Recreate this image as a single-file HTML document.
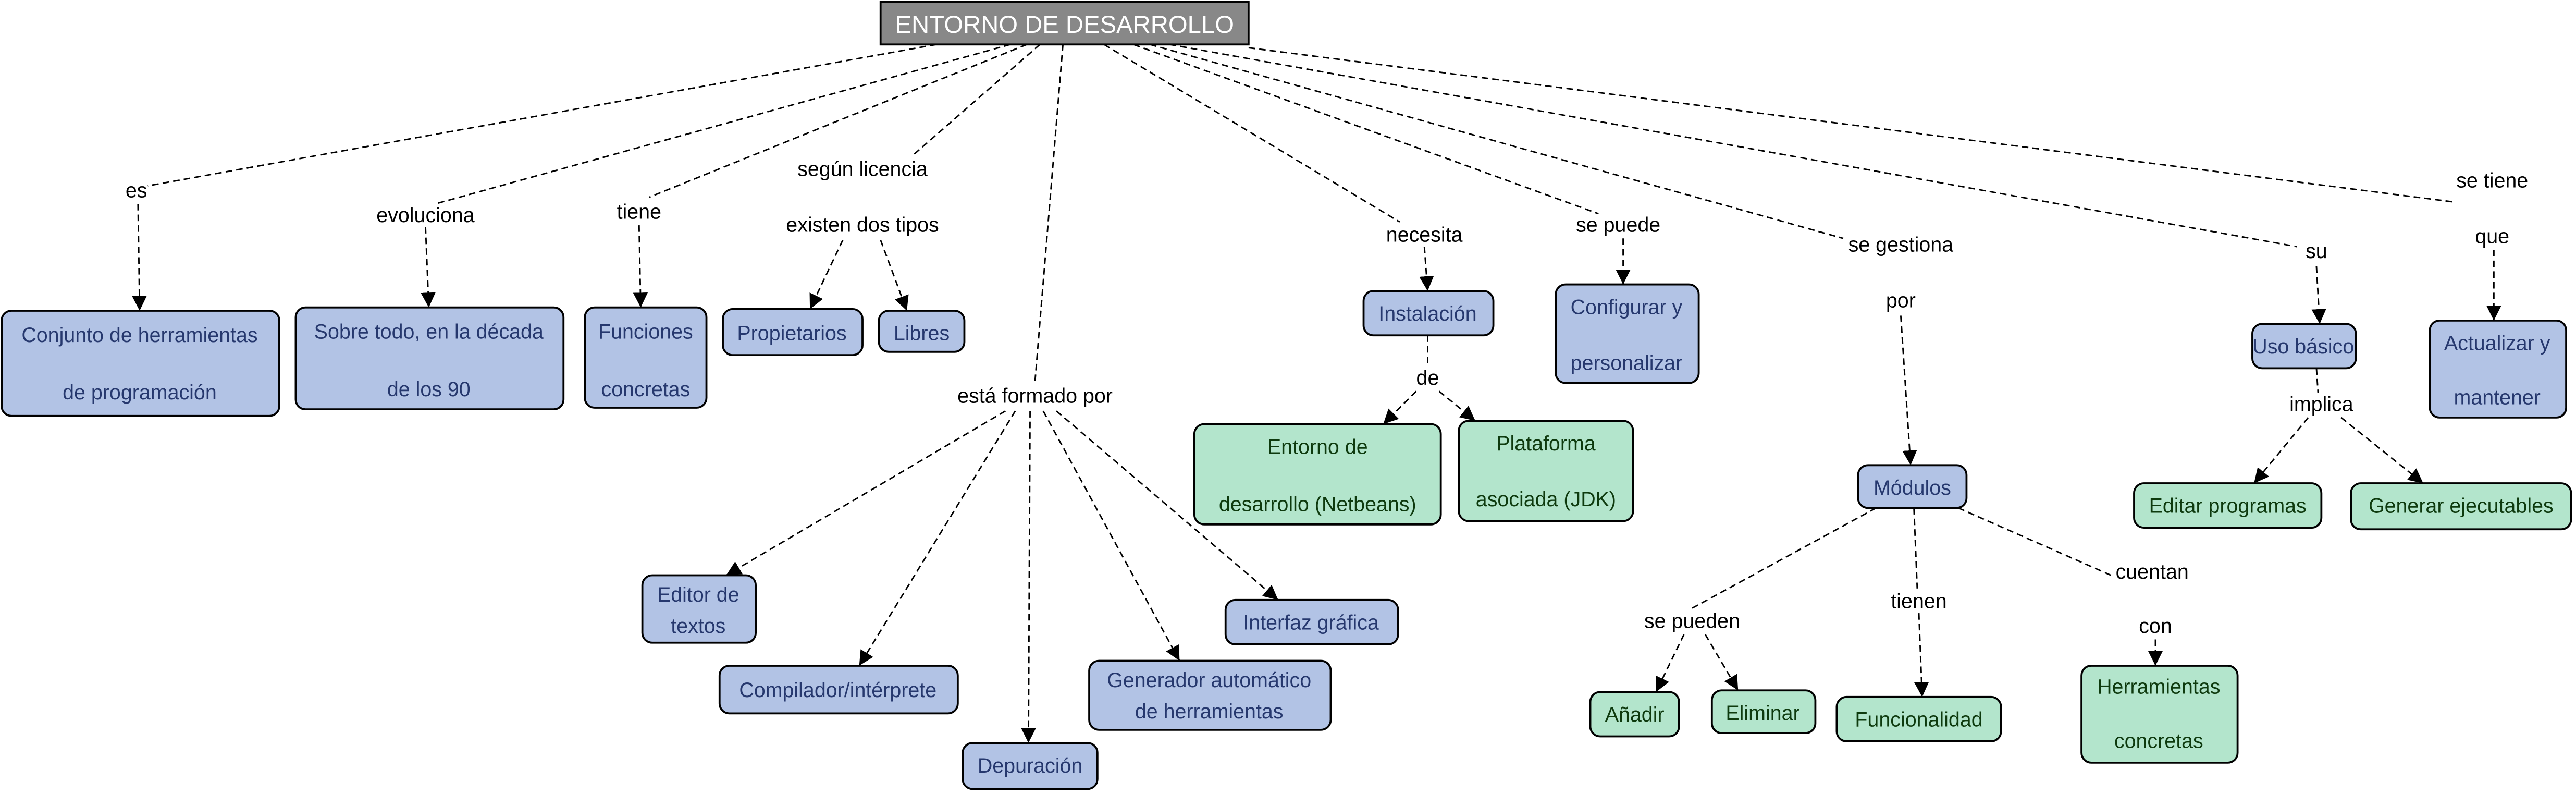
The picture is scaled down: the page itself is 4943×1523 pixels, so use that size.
<!DOCTYPE html>
<html><head><meta charset="utf-8"><style>
html,body{margin:0;padding:0;background:#fff}
svg{display:block}
text{font-family:"Liberation Sans",sans-serif;font-size:12.5px;text-anchor:middle}
.l{fill:#000}
.b{fill:#26386e}
.g{fill:#0e3a0e}
.nb{fill:#b2c3e5;stroke:#000;stroke-width:1.2}
.ng{fill:#b3e5cc;stroke:#000;stroke-width:1.2}
.e{stroke:#000;stroke-width:0.9;stroke-dasharray:4,2.5;fill:none}
</style></head><body>
<svg width="4943" height="1523" viewBox="0 0 1568 483" xmlns="http://www.w3.org/2000/svg">
<defs><marker id="a" viewBox="0 0 10 10" refX="10" refY="5" markerWidth="9" markerHeight="9" markerUnits="userSpaceOnUse" orient="auto"><path d="M0,0 L10,5 L0,10 z" fill="#000"/></marker></defs>
<g class="e">
<line x1="570" y1="27" x2="90" y2="113"/>
<line x1="615" y1="27" x2="265" y2="124"/>
<line x1="625" y1="27" x2="395" y2="120"/>
<line x1="633" y1="27" x2="555" y2="95"/>
<line x1="647" y1="27" x2="630" y2="232"/>
<line x1="672" y1="27" x2="852" y2="135"/>
<line x1="690" y1="27" x2="973" y2="130"/>
<line x1="700" y1="27" x2="1122" y2="145"/>
<line x1="712" y1="27" x2="1398" y2="150"/>
<line x1="760" y1="29" x2="1495" y2="123"/>
<line x1="84" y1="124" x2="85" y2="189" marker-end="url(#a)"/>
<line x1="259" y1="138" x2="261" y2="187" marker-end="url(#a)"/>
<line x1="389" y1="137" x2="390" y2="187" marker-end="url(#a)"/>
<line x1="513" y1="146" x2="493" y2="188" marker-end="url(#a)"/>
<line x1="536" y1="146" x2="552" y2="189" marker-end="url(#a)"/>
<line x1="612" y1="250" x2="442" y2="350" marker-end="url(#a)"/>
<line x1="618" y1="250" x2="523" y2="405" marker-end="url(#a)"/>
<line x1="627" y1="250" x2="626" y2="452" marker-end="url(#a)"/>
<line x1="635" y1="250" x2="718" y2="402" marker-end="url(#a)"/>
<line x1="643" y1="250" x2="778" y2="365" marker-end="url(#a)"/>
<line x1="867" y1="150" x2="869" y2="177" marker-end="url(#a)"/>
<line x1="869" y1="204" x2="869" y2="222"/>
<line x1="862" y1="238" x2="842" y2="258" marker-end="url(#a)"/>
<line x1="876" y1="238" x2="898" y2="256" marker-end="url(#a)"/>
<line x1="988" y1="145" x2="988" y2="173" marker-end="url(#a)"/>
<line x1="1157" y1="192" x2="1163" y2="283" marker-end="url(#a)"/>
<line x1="1410" y1="162" x2="1412" y2="197" marker-end="url(#a)"/>
<line x1="1518" y1="152" x2="1518" y2="195" marker-end="url(#a)"/>
<line x1="1410" y1="224" x2="1411" y2="239"/>
<line x1="1405" y1="254" x2="1372" y2="294" marker-end="url(#a)"/>
<line x1="1425" y1="254" x2="1475" y2="294" marker-end="url(#a)"/>
<line x1="1142" y1="309" x2="1030" y2="370"/>
<line x1="1165" y1="309" x2="1167" y2="358"/>
<line x1="1192" y1="309" x2="1285" y2="350"/>
<line x1="1025" y1="386" x2="1008" y2="421" marker-end="url(#a)"/>
<line x1="1038" y1="386" x2="1058" y2="420" marker-end="url(#a)"/>
<line x1="1168" y1="373" x2="1170" y2="424" marker-end="url(#a)"/>
<line x1="1312" y1="389" x2="1312" y2="405" marker-end="url(#a)"/>
</g>
<rect x="536" y="1" width="224" height="26" fill="#888" stroke="#000" stroke-width="1.2"/>
<text x="648" y="20" style="fill:#fff;font-size:15px">ENTORNO DE DESARROLLO</text>
<g>
<rect class="nb" x="1" y="189" width="169" height="64" rx="6"/>
<text class="b" x="85" y="208">Conjunto de herramientas</text><text class="b" x="85" y="243">de programación</text>
<rect class="nb" x="180" y="187" width="163" height="62" rx="6"/>
<text class="b" x="261" y="206">Sobre todo, en la década</text><text class="b" x="261" y="241">de los 90</text>
<rect class="nb" x="356" y="187" width="74" height="61" rx="6"/>
<text class="b" x="393" y="206">Funciones</text><text class="b" x="393" y="241">concretas</text>
<rect class="nb" x="440" y="188" width="85" height="28" rx="6"/>
<text class="b" x="482" y="207">Propietarios</text>
<rect class="nb" x="535" y="189" width="52" height="25" rx="6"/>
<text class="b" x="561" y="207">Libres</text>
<rect class="nb" x="830" y="177" width="79" height="27" rx="6"/>
<text class="b" x="869" y="195">Instalación</text>
<rect class="nb" x="947" y="173" width="87" height="60" rx="6"/>
<text class="b" x="990" y="191">Configurar y</text><text class="b" x="990" y="225">personalizar</text>
<rect class="ng" x="727" y="258" width="150" height="61" rx="6"/>
<text class="g" x="802" y="276">Entorno de</text><text class="g" x="802" y="311">desarrollo (Netbeans)</text>
<rect class="ng" x="888" y="256" width="106" height="61" rx="6"/>
<text class="g" x="941" y="274">Plataforma</text><text class="g" x="941" y="308">asociada (JDK)</text>
<rect class="nb" x="391" y="350" width="69" height="41" rx="6"/>
<text class="b" x="425" y="366">Editor de</text><text class="b" x="425" y="385">textos</text>
<rect class="nb" x="438" y="405" width="145" height="29" rx="6"/>
<text class="b" x="510" y="424">Compilador/intérprete</text>
<rect class="nb" x="586" y="452" width="82" height="28" rx="6"/>
<text class="b" x="627" y="470">Depuración</text>
<rect class="nb" x="663" y="402" width="147" height="42" rx="6"/>
<text class="b" x="736" y="418">Generador automático</text><text class="b" x="736" y="437">de herramientas</text>
<rect class="nb" x="746" y="365" width="105" height="27" rx="6"/>
<text class="b" x="798" y="383">Interfaz gráfica</text>
<rect class="nb" x="1131" y="283" width="66" height="26" rx="6"/>
<text class="b" x="1164" y="301">Módulos</text>
<rect class="ng" x="968" y="421" width="54" height="27" rx="6"/>
<text class="g" x="995" y="439">Añadir</text>
<rect class="ng" x="1042" y="420" width="63" height="26" rx="6"/>
<text class="g" x="1073" y="438">Eliminar</text>
<rect class="ng" x="1118" y="424" width="100" height="27" rx="6"/>
<text class="g" x="1168" y="442">Funcionalidad</text>
<rect class="ng" x="1267" y="405" width="95" height="59" rx="6"/>
<text class="g" x="1314" y="422">Herramientas</text><text class="g" x="1314" y="455">concretas</text>
<rect class="nb" x="1371" y="197" width="63" height="27" rx="6"/>
<text class="b" x="1402" y="215">Uso básico</text>
<rect class="nb" x="1479" y="195" width="83" height="59" rx="6"/>
<text class="b" x="1520" y="213">Actualizar y</text><text class="b" x="1520" y="246">mantener</text>
<rect class="ng" x="1299" y="294" width="114" height="27" rx="6"/>
<text class="g" x="1356" y="312">Editar programas</text>
<rect class="ng" x="1431" y="294" width="134" height="28" rx="6"/>
<text class="g" x="1498" y="312">Generar ejecutables</text>
</g>
<g class="l">
<text x="83" y="120">es</text>
<text x="259" y="135">evoluciona</text>
<text x="389" y="133">tiene</text>
<text x="525" y="107">según licencia</text>
<text x="525" y="141">existen dos tipos</text>
<text x="630" y="245">está formado por</text>
<text x="867" y="147">necesita</text>
<text x="985" y="141">se puede</text>
<text x="1157" y="153">se gestiona</text>
<text x="1157" y="187">por</text>
<text x="1410" y="157">su</text>
<text x="1517" y="114">se tiene</text>
<text x="1517" y="148">que</text>
<text x="869" y="234">de</text>
<text x="1030" y="382">se pueden</text>
<text x="1168" y="370">tienen</text>
<text x="1310" y="352">cuentan</text>
<text x="1312" y="385">con</text>
<text x="1413" y="250">implica</text>
</g>
</svg>
</body></html>
